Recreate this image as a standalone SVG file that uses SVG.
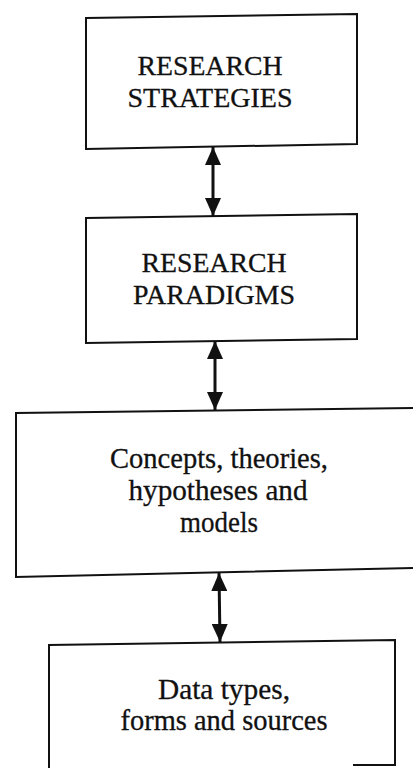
<svg xmlns="http://www.w3.org/2000/svg" width="413" height="768" viewBox="0 0 413 768">
<style>
.box{fill:none;stroke:#111;stroke-width:2}
.t{font-family:"Liberation Serif","DejaVu Serif",serif;fill:#111;text-anchor:middle;stroke:#111;stroke-width:0.3}
.cap{font-size:27.5px}
.low{font-size:29px}
.conn{stroke:#111;stroke-width:3;fill:none}
</style>
<defs>
<marker id="ah" viewBox="0 0 18 16" refX="18" refY="8" markerWidth="18" markerHeight="16" markerUnits="userSpaceOnUse" orient="auto-start-reverse">
<path d="M0,0 L18,8 L0,16 Z" fill="#111"/>
</marker>
</defs>
<rect width="413" height="768" fill="#fff"/>
<g id="strategies">
<polygon class="box" points="86,18 357,14 357,144 86,149"/>
<text class="t cap" x="210" y="75" textLength="145" lengthAdjust="spacingAndGlyphs">RESEARCH</text>
<text class="t cap" x="210" y="107" textLength="165" lengthAdjust="spacingAndGlyphs">STRATEGIES</text>
</g>
<g id="paradigms">
<polygon class="box" points="86,218 357,214 357,339 86,343"/>
<text class="t cap" x="214" y="272" textLength="145" lengthAdjust="spacingAndGlyphs">RESEARCH</text>
<text class="t cap" x="214" y="304" textLength="162" lengthAdjust="spacingAndGlyphs">PARADIGMS</text>
</g>
<g id="concepts">
<polyline class="box" points="413,408 16,413 16,577 413,568"/>
<text class="t low" x="219" y="468" textLength="218" lengthAdjust="spacingAndGlyphs">Concepts, theories,</text>
<text class="t low" x="218" y="500" textLength="179" lengthAdjust="spacingAndGlyphs">hypotheses and</text>
<text class="t low" x="219" y="532" textLength="78" lengthAdjust="spacingAndGlyphs">models</text>
</g>
<g id="data">
<polyline class="box" points="49,768 49,645 395,640 395,765 353,765"/>
<text class="t low" x="224" y="699" textLength="132" lengthAdjust="spacingAndGlyphs">Data types,</text>
<text class="t low" x="224" y="730" textLength="207" lengthAdjust="spacingAndGlyphs">forms and sources</text>
</g>
<g id="connectors">
<line class="conn" x1="213" y1="147" x2="213" y2="216" marker-start="url(#ah)" marker-end="url(#ah)"/>
<line class="conn" x1="215" y1="341" x2="215" y2="410" marker-start="url(#ah)" marker-end="url(#ah)"/>
<line class="conn" x1="219" y1="573" x2="220" y2="642" marker-start="url(#ah)" marker-end="url(#ah)"/>
</g>
</svg>
